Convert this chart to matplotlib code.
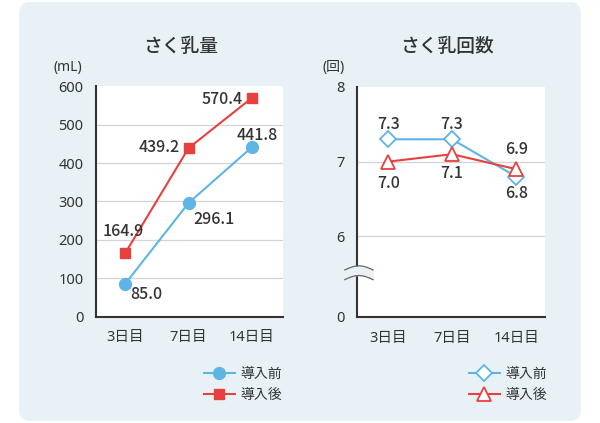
import numpy as np
import matplotlib

matplotlib.use("Agg")
import matplotlib.pyplot as plt
from matplotlib.patches import FancyBboxPatch

plt.rcParams["font.family"] = ["Noto Sans", "Noto Sans CJK JP", "DejaVu Sans"]
CJK = ["Noto Sans CJK JP", "DejaVu Sans"]

# %% data
days = ["3日目", "7日目", "14日目"]
series_names = ["導入前", "導入後"]

volume_before = [85.0, 296.1, 441.8]
volume_after = [164.9, 439.2, 570.4]
volume_ticks = [0, 100, 200, 300, 400, 500, 600]

count_before = [7.3, 7.3, 6.8]
count_after = [7.0, 7.1, 6.9]
count_ticks = [0, 6, 7, 8]

# %% styles
BLUE = "#5fb4e6"
RED = "#e8403f"
TEXT = "#333333"
BG = "#e8f2f6"
GRID = "#d4d4d4"

BREAK_SHIFT = 4.92  # values >= 6 are drawn at v - BREAK_SHIFT, 0 stays at 0


def brk(v):
    v = np.asarray(v, dtype=float)
    return np.where(v >= 6, v - BREAK_SHIFT, v)


W, H = 600, 423
fig = plt.figure(figsize=(W / 100, H / 100), dpi=100)
fig.patch.set_facecolor("white")

panel = FancyBboxPatch(
    (0.19, 0.02),
    5.62,
    4.19,
    boxstyle="round,pad=0,rounding_size=0.11",
    transform=fig.dpi_scale_trans,
    facecolor=BG,
    edgecolor="none",
    zorder=-10,
)
fig.add_artist(panel)


def fx(px):
    return px / W


def fy(py):
    return 1 - py / H


def style_axes(ax):
    ax.set_facecolor("white")
    ax.spines[["top", "right"]].set_visible(False)
    for side in ["left", "bottom"]:
        ax.spines[side].set_color(TEXT)
        ax.spines[side].set_linewidth(1.5)
    ax.tick_params(length=0, colors=TEXT, labelsize=10.5)
    ax.tick_params(axis="y", pad=9)
    ax.tick_params(axis="x", pad=10)


def label(ax, x, y, text, dx, dy):
    ax.annotate(
        text,
        (x, y),
        xytext=(dx, dy),
        textcoords="offset pixels",
        ha="center",
        va="center",
        fontsize=11.5,
        family=CJK,
        fontweight=500,
        color=TEXT,
        annotation_clip=False,
    )


x = np.arange(len(days))

# %% left: volume
ax1 = fig.add_axes([fx(96), fy(316.5), fx(283 - 96), (316.5 - 86.5) / H])
style_axes(ax1)
ax1.set_xlim(-0.46, 2.49)
ax1.set_ylim(0, 600)
ax1.set_yticks(volume_ticks)
ax1.set_xticks(x, days)
for t in volume_ticks[1:-1]:
    ax1.axhline(t, color=GRID, linewidth=0.9, zorder=0)

ax1.plot(x, volume_before, color=BLUE, linewidth=1.5, marker="o",
         markersize=8.5, label=series_names[0], zorder=3)
ax1.plot(x, volume_after, color=RED, linewidth=1.5, marker="s",
         markersize=7.5, label=series_names[1], zorder=3)

before_offsets = [(21, -11), (25, -17), (5, 12)]
after_offsets = [(-2, 22), (-29, 1), (-30, -2)]
for i in range(len(days)):
    label(ax1, x[i], volume_before[i], f"{volume_before[i]:.1f}", *before_offsets[i])
    label(ax1, x[i], volume_after[i], f"{volume_after[i]:.1f}", *after_offsets[i])

ax1.legend(
    loc="upper left",
    bbox_to_anchor=(fx(204), fy(367)),
    bbox_transform=fig.transFigure,
    frameon=False,
    fontsize=10,
    handlelength=2.2,
    handletextpad=0.4,
    labelspacing=0.45,
    borderpad=0,
    borderaxespad=0,
    labelcolor=TEXT,
)

# %% right: count (broken axis)
ax2 = fig.add_axes([fx(357), fy(317), fx(545 - 357), (317 - 87) / H])
style_axes(ax2)
ax2.set_xlim(-0.48, 2.45)
ax2.set_ylim(0, brk(8))
ax2.set_yticks(brk(count_ticks), [str(t) for t in count_ticks])
ax2.set_xticks(x, days)
for t in [6, 7]:
    ax2.axhline(brk(t), color=GRID, linewidth=0.9, zorder=0)

ax2.plot(x, brk(count_before), color=BLUE, linewidth=1.5, marker="D",
         markersize=8.5, markerfacecolor="white", markeredgewidth=1.3,
         label=series_names[0], zorder=3)
ax2.plot(x, brk(count_after), color=RED, linewidth=1.5, marker="^",
         markersize=10, markerfacecolor="white", markeredgewidth=1.3,
         label=series_names[1], zorder=3)

before_offsets = [(1, 15), (0, 15), (0, -17)]
after_offsets = [(1, -22), (0, -19), (0, 20)]
for i in range(len(days)):
    label(ax2, x[i], brk(count_before[i]), f"{count_before[i]:.1f}", *before_offsets[i])
    label(ax2, x[i], brk(count_after[i]), f"{count_after[i]:.1f}", *after_offsets[i])

# break mark on the y axis
wx = np.linspace(-0.67, -0.23, 60)
arch = 0.055 * np.cos(np.pi * (wx - (-0.45)) / 0.44)
low = 0.50 + arch
high = 0.63 + arch
ax2.fill_between(wx, low, high, color=BG, zorder=5, clip_on=False, linewidth=0)
ax2.plot(wx, low, color="#666666", linewidth=0.9, zorder=6, clip_on=False)
ax2.plot(wx, high, color="#666666", linewidth=0.9, zorder=6, clip_on=False)

ax2.legend(
    loc="upper left",
    bbox_to_anchor=(fx(469), fy(367)),
    bbox_transform=fig.transFigure,
    frameon=False,
    fontsize=10,
    handlelength=2.2,
    handletextpad=0.4,
    labelspacing=0.45,
    borderpad=0,
    borderaxespad=0,
    labelcolor=TEXT,
)

# %% titles and units
fig.text(fx(181), fy(47), "さく乳量", ha="center", va="center",
         fontsize=13.5, family=CJK, fontweight=500, color=TEXT)
fig.text(fx(447), fy(47), "さく乳回数", ha="center", va="center",
         fontsize=13.5, family=CJK, fontweight=500, color=TEXT)
fig.text(fx(68), fy(67), "(mL)", ha="center", va="center",
         fontsize=10, color=TEXT)
fig.text(fx(334), fy(67), "(回)", ha="center", va="center",
         fontsize=10, color=TEXT)

fig.savefig("out.png", dpi=100, facecolor=fig.get_facecolor())
